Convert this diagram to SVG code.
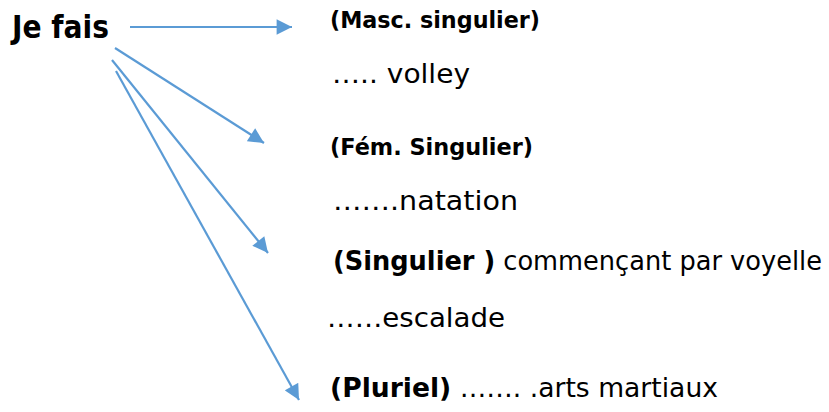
<svg xmlns="http://www.w3.org/2000/svg" width="829" height="412" viewBox="0 0 829 412">
<style>
text{font-family:"DejaVu Sans","Open Sans",sans-serif;fill:#000}
.b{font-weight:bold}
.t{font-size:26px}
.h{font-size:23px}
.c{stroke:#5b9bd5;stroke-width:2.2;fill:none}
</style>
<defs>
<marker id="a" viewBox="0 0 10 10" refX="10" refY="5" markerWidth="7.5" markerHeight="7" orient="auto" markerUnits="strokeWidth">
<path d="M0,0 L10,5 L0,10 z" fill="#5b9bd5"/>
</marker>
</defs>
<rect width="829" height="412" fill="#fff"/>
<g id="je-fais"><text x="12" y="38" class="b" font-size="32" textLength="97" lengthAdjust="spacingAndGlyphs">Je fais</text></g>
<g id="connectors">
<line class="c" x1="130" y1="27" x2="292" y2="27" marker-end="url(#a)"/>
<line class="c" x1="115" y1="48" x2="264" y2="143" marker-end="url(#a)"/>
<line class="c" x1="112" y1="60" x2="268" y2="253" marker-end="url(#a)"/>
<line class="c" x1="116" y1="71" x2="299" y2="400" marker-end="url(#a)"/>
</g>
<g id="masc"><text x="330" y="28" class="b h" textLength="210" lengthAdjust="spacingAndGlyphs">(Masc. singulier)</text><text x="332" y="83" class="t" textLength="138" lengthAdjust="spacingAndGlyphs">….. volley</text></g>
<g id="fem"><text x="330" y="155" class="b h" textLength="203" lengthAdjust="spacingAndGlyphs">(Fém. Singulier)</text><text x="333" y="210" class="t" textLength="185" lengthAdjust="spacingAndGlyphs">…….natation</text></g>
<g id="voyelle"><text x="333" y="270" class="t" textLength="489" lengthAdjust="spacingAndGlyphs"><tspan class="b">(Singulier )</tspan> commençant par voyelle</text><text x="327" y="327" class="t" textLength="178" lengthAdjust="spacingAndGlyphs">……escalade</text></g>
<g id="pluriel"><text x="330" y="397" class="t" textLength="388" lengthAdjust="spacingAndGlyphs"><tspan class="b">(Pluriel)</tspan> ……. .arts martiaux</text></g>
</svg>
